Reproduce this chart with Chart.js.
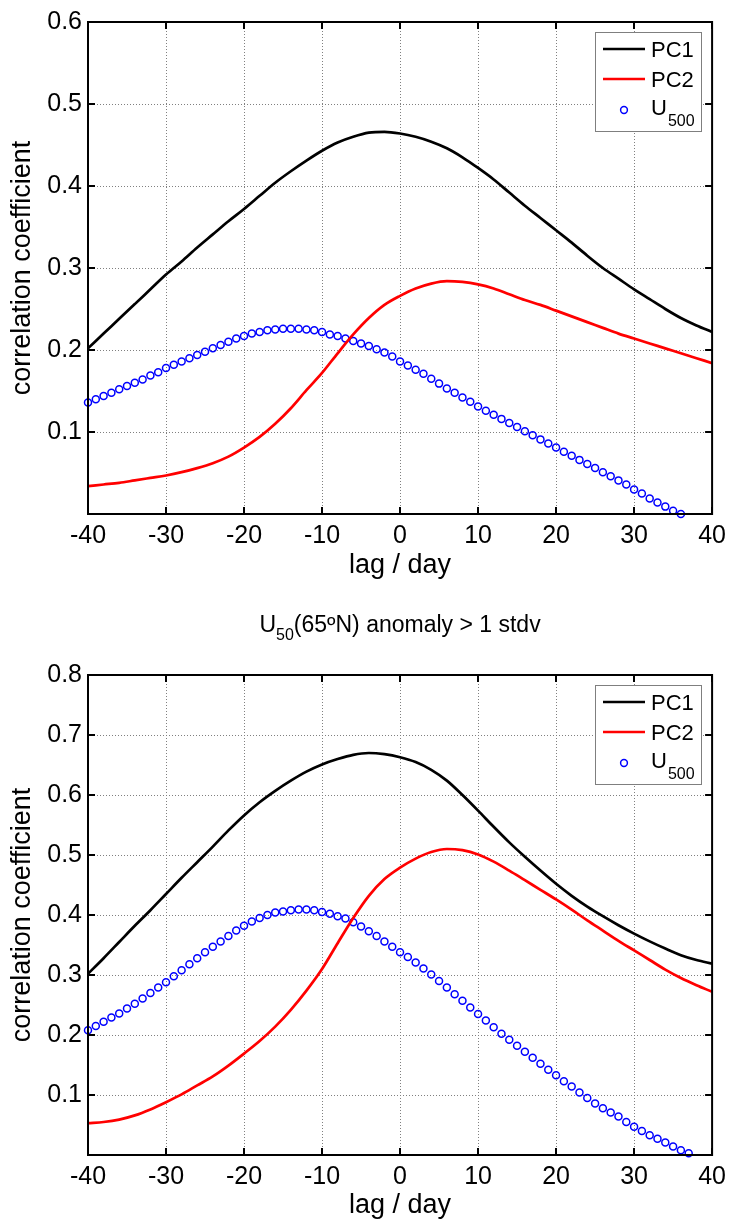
<!DOCTYPE html>
<html>
<head>
<meta charset="utf-8">
<script src="https://cdn.jsdelivr.net/npm/chart.js@4.4.1/dist/chart.umd.min.js"></script>
<style>
  html, body { margin: 0; padding: 0; background: #fff; }
  canvas { position: absolute; left: 0; }
  #chartTop { top: 0; }
  #chartBottom { top: 600px; }
</style>
</head>
<body>
<canvas id="chartTop" width="733" height="600"></canvas>
<canvas id="chartBottom" width="733" height="619"></canvas>
<script>
// lag axis for the smooth lines (every 2 days)
var lagLine = [-40, -38, -36, -34, -32, -30, -28, -26, -24, -22, -20, -18, -16, -14, -12, -10, -8, -6, -4, -2,
	0, 2, 4, 6, 8, 10, 12, 14, 16, 18, 20, 22, 24, 26, 28, 30, 32, 34, 36, 38, 40];
// lag axis for the U500 markers (one per day)
var lagDaily = [-40, -39, -38, -37, -36, -35, -34, -33, -32, -31, -30, -29, -28, -27, -26, -25, -24, -23, -22, -21,
	-20, -19, -18, -17, -16, -15, -14, -13, -12, -11, -10, -9, -8, -7, -6, -5, -4, -3, -2, -1,
	0, 1, 2, 3, 4, 5, 6, 7, 8, 9, 10, 11, 12, 13, 14, 15, 16, 17, 18, 19,
	20, 21, 22, 23, 24, 25, 26, 27, 28, 29, 30, 31, 32, 33, 34, 35, 36, 37];

// top panel
var pc1Top = [0.202, 0.220, 0.238, 0.256, 0.274, 0.292, 0.308, 0.325, 0.341, 0.357, 0.372, 0.388, 0.404, 0.418, 0.431, 0.443, 0.453, 0.460, 0.465, 0.466,
	0.464, 0.460, 0.454, 0.446, 0.435, 0.422, 0.408, 0.392, 0.376, 0.361, 0.346, 0.331, 0.315, 0.300, 0.287, 0.274, 0.262, 0.250, 0.239, 0.230, 0.222];
var pc2Top = [0.034, 0.036, 0.038, 0.041, 0.044, 0.047, 0.051, 0.056, 0.062, 0.070, 0.081, 0.094, 0.110, 0.129, 0.151, 0.172, 0.196, 0.219, 0.239, 0.255,
	0.266, 0.275, 0.281, 0.284, 0.283, 0.280, 0.275, 0.268, 0.261, 0.255, 0.248, 0.241, 0.234, 0.227, 0.220, 0.214, 0.208, 0.202, 0.196, 0.190, 0.184];
var u500Top = [0.136, 0.140, 0.144, 0.148, 0.152, 0.156, 0.160, 0.164, 0.169, 0.173, 0.178, 0.182, 0.186, 0.190, 0.194, 0.198, 0.202, 0.206, 0.210, 0.214,
	0.217, 0.220, 0.222, 0.224, 0.225, 0.226, 0.226, 0.226, 0.225, 0.224, 0.222, 0.219, 0.217, 0.214, 0.211, 0.208, 0.205, 0.201, 0.197, 0.192,
	0.186, 0.181, 0.176, 0.171, 0.165, 0.159, 0.153, 0.148, 0.142, 0.137, 0.131, 0.126, 0.121, 0.116, 0.111, 0.106, 0.101, 0.096, 0.091, 0.086,
	0.081, 0.076, 0.071, 0.066, 0.061, 0.056, 0.051, 0.046, 0.041, 0.036, 0.030, 0.025, 0.019, 0.014, 0.009, 0.004, 0.000];

// bottom panel: U50(65N) anomaly > 1 stdv
var pc1Bot = [0.302, 0.328, 0.355, 0.382, 0.408, 0.435, 0.462, 0.488, 0.514, 0.541, 0.566, 0.588, 0.607, 0.624, 0.639, 0.651, 0.660, 0.667, 0.670, 0.668,
	0.663, 0.655, 0.642, 0.624, 0.600, 0.574, 0.547, 0.521, 0.497, 0.474, 0.452, 0.432, 0.414, 0.398, 0.383, 0.369, 0.356, 0.344, 0.333, 0.325, 0.319];
var pc2Bot = [0.053, 0.055, 0.059, 0.066, 0.076, 0.088, 0.101, 0.116, 0.131, 0.149, 0.169, 0.190, 0.214, 0.242, 0.274, 0.310, 0.353, 0.395, 0.432, 0.460,
	0.479, 0.494, 0.505, 0.510, 0.508, 0.501, 0.489, 0.474, 0.458, 0.442, 0.426, 0.409, 0.391, 0.374, 0.357, 0.341, 0.325, 0.309, 0.295, 0.283, 0.272];
var u500Bot = [0.208, 0.215, 0.222, 0.229, 0.236, 0.244, 0.252, 0.261, 0.270, 0.279, 0.288, 0.298, 0.308, 0.318, 0.328, 0.338, 0.347, 0.356, 0.365, 0.374,
	0.382, 0.389, 0.395, 0.400, 0.404, 0.406, 0.408, 0.409, 0.409, 0.408, 0.405, 0.402, 0.398, 0.394, 0.388, 0.381, 0.373, 0.365, 0.356, 0.347,
	0.338, 0.330, 0.321, 0.311, 0.301, 0.290, 0.279, 0.268, 0.257, 0.246, 0.235, 0.224, 0.213, 0.202, 0.192, 0.182, 0.172, 0.162, 0.152, 0.142,
	0.133, 0.123, 0.114, 0.104, 0.095, 0.086, 0.078, 0.071, 0.064, 0.055, 0.047, 0.040, 0.033, 0.027, 0.021, 0.014, 0.008, 0.003];

var FONT = "'Liberation Sans', Arial, Helvetica, sans-serif";
Chart.defaults.font.family = FONT;
Chart.defaults.color = '#000';

function xy(xs, ys) {
	return ys.map(function (y, i) { return {x: xs[i], y: y}; });
}

// box, inward ticks, legend and (optional) title like the matlab figure
var matlabFrame = {
	id: 'matlabFrame',
	afterDraw: function (chart, args, opts) {
		var ctx = chart.ctx, a = chart.chartArea;
		var xs = chart.scales.x, ys = chart.scales.y;
		ctx.save();
		ctx.strokeStyle = '#000';
		ctx.lineWidth = 2;
		ctx.beginPath();
		xs.ticks.forEach(function (t) {
			var px = Math.round(xs.getPixelForValue(t.value));
			ctx.moveTo(px, a.bottom); ctx.lineTo(px, a.bottom - 7);
			ctx.moveTo(px, a.top); ctx.lineTo(px, a.top + 7);
		});
		ys.ticks.forEach(function (t) {
			var py = Math.round(ys.getPixelForValue(t.value));
			ctx.moveTo(a.left, py); ctx.lineTo(a.left + 7, py);
			ctx.moveTo(a.right, py); ctx.lineTo(a.right - 7, py);
		});
		ctx.stroke();
		ctx.strokeRect(a.left, a.top, a.right - a.left, a.bottom - a.top);

		// legend
		var bx = Math.round(a.right - 117), by = Math.round(a.top + 10), bw = 106, bh = 99;
		ctx.fillStyle = '#fff';
		ctx.fillRect(bx, by, bw, bh);
		ctx.lineWidth = 1;
		ctx.strokeStyle = '#7f7f7f';
		ctx.strokeRect(bx + 0.5, by + 0.5, bw, bh);
		ctx.lineWidth = 2.7;
		ctx.strokeStyle = '#000';
		ctx.beginPath(); ctx.moveTo(bx + 8, by + 17); ctx.lineTo(bx + 50, by + 17); ctx.stroke();
		ctx.strokeStyle = '#ff0000';
		ctx.beginPath(); ctx.moveTo(bx + 8, by + 47); ctx.lineTo(bx + 50, by + 47); ctx.stroke();
		ctx.strokeStyle = '#0000ff';
		ctx.lineWidth = 1.5;
		ctx.beginPath(); ctx.arc(bx + 29, by + 78, 3.4, 0, Math.PI * 2); ctx.stroke();
		ctx.fillStyle = '#000';
		ctx.textBaseline = 'alphabetic';
		ctx.textAlign = 'left';
		ctx.font = '22px ' + FONT;
		ctx.fillText('PC1', bx + 56, by + 25);
		ctx.fillText('PC2', bx + 56, by + 55);
		ctx.fillText('U', bx + 56, by + 83);
		var uw = ctx.measureText('U').width;
		ctx.font = '16px ' + FONT;
		ctx.fillText('500', bx + 56 + uw + 1, by + 94);

		// title with subscript
		if (opts.title) {
			var main = '23px ' + FONT, sub = '16px ' + FONT;
			ctx.font = main;
			var w1 = ctx.measureText('U').width;
			var w3 = ctx.measureText(opts.title).width;
			ctx.font = sub;
			var w2 = ctx.measureText('50').width;
			var x0 = (a.left + a.right) / 2 - (w1 + w2 + w3) / 2;
			var base = opts.titleBase;
			ctx.font = main;
			ctx.fillText('U', x0, base);
			ctx.font = sub;
			ctx.fillText('50', x0 + w1, base + 8);
			ctx.font = main;
			ctx.fillText(opts.title, x0 + w1 + w2, base);
		}
		ctx.restore();
	}
};

function makeChart(id, pc1, pc2, u500, yMax, padTop, xAxisHeight, xTitlePad, frameOpts) {
	return new Chart(document.getElementById(id), {
		type: 'line',
		data: {
			datasets: [{
				label: 'PC1',
				data: xy(lagLine, pc1),
				borderColor: '#000',
				borderWidth: 2.7,
				pointRadius: 0,
				cubicInterpolationMode: 'monotone',
				fill: false
			}, {
				label: 'PC2',
				data: xy(lagLine, pc2),
				borderColor: '#ff0000',
				borderWidth: 2.7,
				pointRadius: 0,
				cubicInterpolationMode: 'monotone',
				fill: false
			}, {
				label: 'U500',
				data: xy(lagDaily, u500),
				showLine: false,
				pointStyle: 'circle',
				pointRadius: 3.5,
				pointBorderWidth: 1.5,
				pointBorderColor: '#0000ff',
				pointBackgroundColor: 'rgba(0,0,0,0)',
				clip: 6
			}]
		},
		options: {
			responsive: false,
			animation: false,
			layout: {
				padding: {left: 0, right: 20, top: padTop, bottom: 0}
			},
			plugins: {
				legend: {display: false},
				tooltip: {enabled: false},
				matlabFrame: frameOpts
			},
			scales: {
				x: {
					type: 'linear',
					min: -40,
					max: 40,
					afterFit: function (s) { s.height = xAxisHeight; },
					ticks: {
						stepSize: 10,
						padding: 7,
						font: {size: 25},
						color: '#000',
						maxRotation: 0
					},
					grid: {
						color: '#808080',
						lineWidth: 1,
						drawTicks: false
					},
					border: {display: false, dash: [1, 2]},
					title: {
						display: true,
						text: 'lag / day',
						font: {size: 27, lineHeight: 1},
						padding: {top: 0, bottom: xTitlePad},
						color: '#000'
					}
				},
				y: {
					min: 0,
					max: yMax,
					afterFit: function (s) { s.width = 88; },
					ticks: {
						stepSize: 0.1,
						padding: 6,
						font: {size: 25},
						color: '#000',
						callback: function (v) { return v < 0.05 ? '' : v.toFixed(1); }
					},
					grid: {
						color: '#808080',
						lineWidth: 1,
						drawTicks: false
					},
					border: {display: false, dash: [1, 2]},
					title: {
						display: true,
						text: 'correlation coefficient',
						font: {size: 27, lineHeight: 1},
						padding: {top: 9.5, bottom: 0},
						color: '#000'
					}
				}
			}
		},
		plugins: [matlabFrame]
	});
}

var topChart = makeChart('chartTop', pc1Top, pc2Top, u500Top, 0.6, 22, 86, 20.5, {});
var bottomChart = makeChart('chartBottom', pc1Bot, pc2Bot, u500Bot, 0.8, 75, 64, 0,
	{title: '(65\u00baN) anomaly > 1 stdv', titleBase: 32});
</script>
</body>
</html>
